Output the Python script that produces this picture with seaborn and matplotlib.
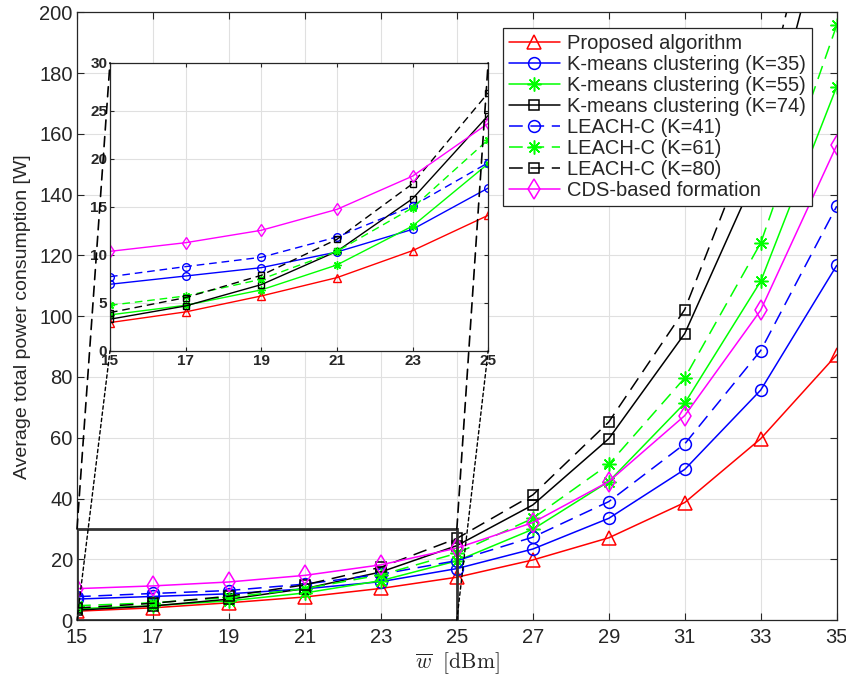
import numpy as np
import pandas as pd
import matplotlib.pyplot as plt
import seaborn as sns
from matplotlib.patches import Rectangle, ConnectionPatch

sns.set_theme(style="ticks")
plt.rcParams["font.family"] = ["Liberation Sans", "DejaVu Sans"]
plt.rcParams["mathtext.fontset"] = "cm"

# transmit power levels (dBm)
tx_power = [15, 17, 19, 21, 23, 25, 27, 29, 31, 33, 35]

# average total power consumption [W]
proposed = [2.95, 4.06, 5.72, 7.63, 10.44, 14.12, 19.8, 27.1, 38.7, 59.7, 87.3]
kmeans_35 = [6.94, 7.80, 8.67, 10.30, 12.66, 16.96, 23.4, 33.5, 49.6, 75.7, 116.7]
kmeans_55 = [3.75, 4.75, 6.35, 8.95, 13.0, 19.5, 29.9, 45.6, 71.4, 111.5, 175.5]
kmeans_74 = [3.30, 4.68, 6.90, 10.37, 15.85, 24.52, 37.9, 59.7, 94.3, 150.0, 245.0]
leach_41 = [7.73, 8.78, 9.75, 11.86, 15.09, 19.6, 27.3, 39.0, 58.0, 88.7, 136.2]
leach_61 = [4.75, 5.72, 7.46, 10.37, 14.9, 22.0, 33.5, 51.3, 79.7, 124.1, 195.7]
leach_80 = [3.99, 5.55, 7.87, 11.62, 17.41, 26.88, 41.2, 65.2, 102.2, 166.0, 266.0]
cds_based = [10.37, 11.27, 12.56, 14.74, 18.2, 23.7, 32.1, 45.6, 67.3, 102.0, 156.2]

labels = [
    "Proposed algorithm",
    "K-means clustering (K=35)",
    "K-means clustering (K=55)",
    "K-means clustering (K=74)",
    "LEACH-C (K=41)",
    "LEACH-C (K=61)",
    "LEACH-C (K=80)",
    "CDS-based formation",
]
all_values = [proposed, kmeans_35, kmeans_55, kmeans_74, leach_41, leach_61, leach_80, cds_based]

RED, BLUE, GREEN, MAGENTA = (1, 0, 0), (0, 0, 1), (0, 1, 0), (1, 0, 1)
ASTER = (8, 2, 0)

# color, marker, dashed?, main marker size, inset marker size
styles = [
    (RED, "^", False, 9.5, 5.5),
    (BLUE, "o", False, 8.5, 5.5),
    (GREEN, ASTER, False, 10, 6),
    ("black", "s", False, 6.5, 4),
    (BLUE, "o", True, 8.5, 5.5),
    (GREEN, ASTER, True, 10, 6),
    ("black", "s", True, 6.5, 4),
    (MAGENTA, "d", False, 10, 6.5),
]

fig = plt.figure(figsize=(8.46, 6.8), dpi=100)
ax = fig.add_axes([0.091, 0.088, 0.898, 0.894])
axins = fig.add_axes([0.130, 0.484, 0.447, 0.4235])

for name, values, (color, marker, dashed, ms_main, ms_ins) in zip(labels, all_values, styles):
    df = pd.DataFrame({"w": tx_power, "p": values})

    sns.lineplot(
        data=df, x="w", y="p", ax=ax,
        color=color, marker=marker, markersize=ms_main,
        markerfacecolor="none", markeredgecolor=color, markeredgewidth=1.1,
        linewidth=1.1, linestyle=(0, (9, 5)) if dashed else "-",
        label=name, legend=False
    )

    # zoomed copy, 15-25 dBm only
    sns.lineplot(
        data=df[df["w"] <= 25], x="w", y="p", ax=axins,
        color=color, marker=marker, markersize=ms_ins,
        markerfacecolor="none", markeredgecolor=color, markeredgewidth=1.0,
        linewidth=1.0, linestyle=(0, (5.5, 3.5)) if dashed else "-",
        legend=False
    )

# main axes styling
ax.set_xlim(15, 35)
ax.set_ylim(0, 200)
ax.set_xticks(np.arange(15, 36, 2))
ax.set_yticks(np.arange(0, 201, 20))
ax.grid(True, color="0.88", linewidth=0.8)
ax.set_axisbelow(True)
ax.tick_params(direction="in", top=True, right=True, length=5, labelsize=14.5,
               colors="0.15", width=0.8)
ax.tick_params(axis="x", pad=6)
ax.tick_params(axis="y", pad=3)
for sp in ax.spines.values():
    sp.set_color("0.15")
    sp.set_linewidth(0.9)

ax.set_xlabel(r"$\overline{w}\ \ [\mathrm{dBm}]$", fontsize=15.5, color="0.15", labelpad=2)
ax.set_ylabel("Average total power consumption [W]", fontsize=14, color="0.15", labelpad=6)

handles = ax.get_lines()
leg = ax.legend(
    handles, labels,
    loc="upper right", bbox_to_anchor=(0.967, 0.974), borderaxespad=0,
    fontsize=14.5, frameon=True, fancybox=False, edgecolor="0.15",
    framealpha=1, handlelength=2.5, labelspacing=0.1, borderpad=0.3,
    handletextpad=0.35
)
leg.get_frame().set_linewidth(0.9)

# zoom box on the main axes
ax.add_patch(Rectangle((15, 0), 10, 30, fill=False, edgecolor="0.2", linewidth=2, zorder=5))

# inset styling
axins.set_xlim(15, 25)
axins.set_ylim(0, 30)
axins.set_xticks(np.arange(15, 26, 2))
axins.set_yticks(np.arange(0, 31, 5))
axins.set_xlabel("")
axins.set_ylabel("")
axins.set_facecolor("white")
axins.grid(True, color="0.88", linewidth=0.8)
axins.set_axisbelow(True)
axins.tick_params(direction="in", top=True, right=True, length=3, labelsize=11,
                  colors="0.15", width=0.8, pad=2)
for lab in axins.get_xticklabels() + axins.get_yticklabels():
    lab.set_fontweight("bold")
for sp in axins.spines.values():
    sp.set_color("0.15")
    sp.set_linewidth(0.9)

# connecting lines between box and inset
for (x, y), ls, lw in [((15, 30), (0, (6, 4)), 1.2), ((25, 30), (0, (6, 4)), 1.2),
                       ((15, 0), (0, (2.5, 2)), 1.0), ((25, 0), (0, (2.5, 2)), 1.0)]:
    con = ConnectionPatch(xyA=(x, y), coordsA=ax.transData,
                          xyB=(x, y), coordsB=axins.transData,
                          color="black", linestyle=ls, linewidth=lw, zorder=20,
                          shrinkA=0, shrinkB=0)
    fig.add_artist(con)

plt.savefig("out.png", dpi=100)
